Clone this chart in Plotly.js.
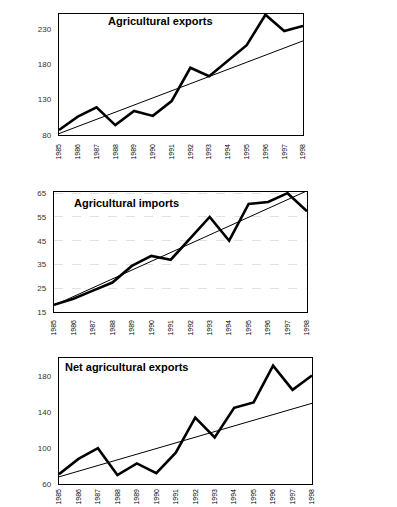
<!DOCTYPE html>
<html>
<head>
<meta charset="utf-8">
<script src="https://cdn.plot.ly/plotly-3.0.1.min.js"></script>
<style>html,body{margin:0;padding:0;background:#fff;}#chart{width:397px;height:507px;}</style>
</head>
<body>
<div id="chart"></div>
<script>
const years = [1985,1986,1987,1988,1989,1990,1991,1992,1993,1994,1995,1996,1997,1998];
const yearLabels = ["1985","1986","1987","1988","1989","1990","1991","1992","1993","1994","1995","1996","1997","1998"];
const exportsVals = [87,106,119,94,114,107,128,175,163,185,207,250,227,234];
const importsVals = [18,20.6,24,27.4,34.4,38.6,37,46,55,45,60.5,61.3,65,57.4];
const netVals = [71,88,100,70,83,72,95,134,112,145,151,192,165,181];
const trendYears = [1985,1998];
const exportsTrend = [82,213];
const importsTrend = [17.8,66];
const netTrend = [68,150];
const titles = ["Agricultural exports","Agricultural imports","Net agricultural exports"];

const W = 397, H = 507;
function fx(px){return px/W;}
function fy(py){return 1-py/H;}

const mainLine = {color:'#000', width:2.6};
const trendLine = {color:'#000', width:1};
const traces = [
  {x:years,y:exportsVals,mode:'lines',line:mainLine,xaxis:'x',yaxis:'y',hoverinfo:'skip'},
  {x:trendYears,y:exportsTrend,mode:'lines',line:trendLine,xaxis:'x',yaxis:'y',hoverinfo:'skip'},
  {x:years,y:importsVals,mode:'lines',line:mainLine,xaxis:'x2',yaxis:'y2',hoverinfo:'skip'},
  {x:trendYears,y:importsTrend,mode:'lines',line:trendLine,xaxis:'x2',yaxis:'y2',hoverinfo:'skip'},
  {x:years,y:netVals,mode:'lines',line:mainLine,xaxis:'x3',yaxis:'y3',hoverinfo:'skip'},
  {x:trendYears,y:netTrend,mode:'lines',line:trendLine,xaxis:'x3',yaxis:'y3',hoverinfo:'skip'}
];

function xax(d0,d1,anchor,tl){
  return {domain:[fx(d0),fx(d1)],anchor:anchor,range:[1985,1998],tickmode:'array',tickvals:years,ticktext:yearLabels,
    tickangle:-90,tickfont:{family:'Arial, Liberation Sans',size:7,color:'#000'},showgrid:false,zeroline:false,
    showline:true,mirror:true,linecolor:'#000',linewidth:1.2,ticks:'outside',ticklen:tl,tickcolor:'rgba(0,0,0,0)'};
}
function yax(top,bot,anchor,range,tv,grid){
  return {domain:[fy(bot),fy(top)],anchor:anchor,range:range,tickmode:'array',tickvals:tv,
    tickfont:{family:'Arial, Liberation Sans',size:8,color:'#333'},showgrid:grid,gridcolor:'#e2e2e2',griddash:'dash',gridwidth:1,
    zeroline:false,showline:true,mirror:true,linecolor:'#000',linewidth:1.2,ticks:'outside',ticklen:5,tickcolor:'rgba(0,0,0,0)'};
}

const layout = {
  width:W,height:H,margin:{l:0,r:0,t:0,b:0},showlegend:false,
  paper_bgcolor:'#fff',plot_bgcolor:'#fff',
  xaxis:xax(59,303,'y',5),
  yaxis:yax(14,135,'x',[80,251],[80,130,180,230],false),
  xaxis2:xax(54,307,'y2',4),
  yaxis2:yax(192,312,'x2',[15,65.5],[15,25,35,45,55,65],true),
  xaxis3:xax(59,312,'y3',1),
  yaxis3:yax(358,484,'x3',[60,200.5],[60,100,140,180],false),
  annotations:[
    {text:'<b>'+titles[0]+'</b>',xref:'paper',yref:'paper',x:fx(160),y:fy(21),xanchor:'center',yanchor:'middle',showarrow:false,font:{family:'Arial, Liberation Sans',size:11,color:'#000'}},
    {text:'<b>'+titles[1]+'</b>',xref:'paper',yref:'paper',x:fx(72),y:fy(203),xanchor:'left',yanchor:'middle',showarrow:false,font:{family:'Arial, Liberation Sans',size:11,color:'#000'}},
    {text:'<b>'+titles[2]+'</b>',xref:'paper',yref:'paper',x:fx(63),y:fy(367),xanchor:'left',yanchor:'middle',showarrow:false,font:{family:'Arial, Liberation Sans',size:11,color:'#000'}}
  ]
};

Plotly.newPlot('chart',traces,layout,{staticPlot:true,displayModeBar:false});
</script>
</body>
</html>
